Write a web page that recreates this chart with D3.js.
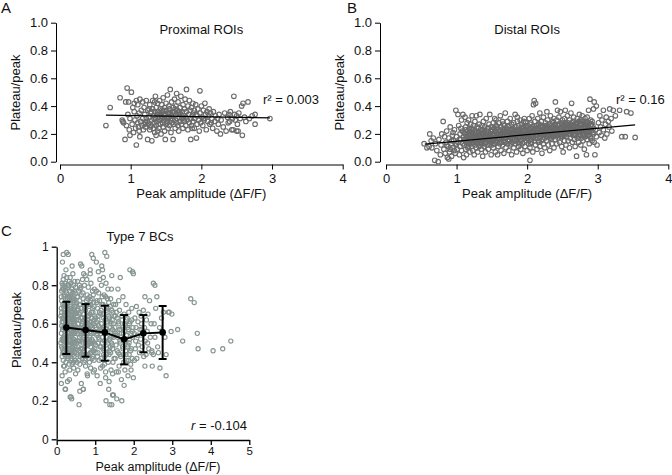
<!DOCTYPE html>
<html><head><meta charset="utf-8">
<script src="https://cdn.jsdelivr.net/npm/d3@7"></script>
<style>
html,body{margin:0;padding:0;background:#fff;}
svg{display:block;font-family:"Liberation Sans",Arial,sans-serif;}
</style></head><body>
<svg id="chart" width="672" height="475"></svg>
<script>
// ---------- DATA ----------
const xTicksAB = [0,1,2,3,4];
const yTicksAB = [0,0.2,0.4,0.6,0.8,1.0];
const xTicksC = [0,1,2,3,4,5];
const yTicksC = [0,0.2,0.4,0.6,0.8,1];

const proximalPts = [
[0.65,0.26],[0.71,0.39],[0.85,0.46],[0.88,0.30],[0.90,0.28],[0.92,0.16],[0.95,0.53],[0.96,0.34],[0.98,0.23],[0.99,0.31],[0.93,0.43],[0.97,0.43],[0.89,0.29],[0.94,0.26],[0.99,0.19],
[1.01,0.50],[1.02,0.27],[1.03,0.39],[1.04,0.21],[1.05,0.36],[1.06,0.30],[1.07,0.24],[1.08,0.12],[1.08,0.44],[1.09,0.33],[1.10,0.28],[1.10,0.41],[1.11,0.25],[1.12,0.35],[1.13,0.18],[1.13,0.45],[1.14,0.29],[1.15,0.37],[1.16,0.26],[1.17,0.43],[1.17,0.31],[1.18,0.23],[1.19,0.39],[1.19,0.27],[1.05,0.42],[1.12,0.22],
[1.20,0.34],[1.21,0.25],[1.22,0.44],[1.23,0.29],[1.24,0.16],[1.24,0.37],[1.25,0.27],[1.26,0.32],[1.27,0.41],[1.27,0.23],[1.28,0.35],[1.29,0.26],[1.30,0.15],[1.30,0.30],[1.31,0.44],[1.31,0.38],[1.32,0.24],[1.32,0.33],[1.33,0.28],[1.34,0.36],[1.34,0.21],[1.35,0.31],[1.35,0.47],[1.36,0.26],[1.36,0.39],[1.37,0.34],[1.37,0.29],[1.38,0.22],[1.38,0.42],[1.39,0.32],[1.39,0.27],[1.22,0.31],[1.26,0.38],[1.29,0.36],[1.33,0.31],[1.36,0.19],[1.21,0.28],[1.28,0.25],[1.34,0.43],[1.38,0.36],
[1.40,0.35],[1.40,0.24],[1.41,0.30],[1.41,0.44],[1.42,0.38],[1.42,0.27],[1.43,0.33],[1.43,0.20],[1.44,0.41],[1.44,0.31],[1.45,0.28],[1.45,0.36],[1.46,0.25],[1.46,0.46],[1.47,0.34],[1.47,0.30],[1.48,0.39],[1.48,0.22],[1.49,0.16],[1.49,0.33],[1.50,0.27],[1.50,0.42],[1.51,0.37],[1.51,0.31],[1.52,0.29],[1.52,0.48],[1.53,0.35],[1.53,0.24],[1.54,0.40],[1.54,0.32],[1.55,0.26],[1.55,0.38],[1.56,0.52],[1.56,0.30],[1.57,0.34],[1.57,0.21],[1.58,0.43],[1.58,0.28],[1.59,0.36],[1.59,0.31],[1.60,0.16],[1.60,0.39],[1.42,0.34],[1.47,0.37],[1.53,0.32],[1.58,0.33],[1.45,0.32],[1.51,0.28],[1.55,0.35],[1.44,0.37],
[1.61,0.33],[1.61,0.27],[1.62,0.45],[1.62,0.36],[1.63,0.30],[1.63,0.24],[1.64,0.40],[1.64,0.34],[1.65,0.28],[1.65,0.49],[1.66,0.37],[1.66,0.31],[1.67,0.26],[1.67,0.43],[1.68,0.35],[1.68,0.22],[1.69,0.32],[1.70,0.39],[1.70,0.29],[1.71,0.47],[1.71,0.34],[1.72,0.27],[1.73,0.36],[1.73,0.31],[1.74,0.41],[1.74,0.24],[1.75,0.33],[1.76,0.38],[1.76,0.29],[1.77,0.45],[1.78,0.32],[1.78,0.26],[1.79,0.52],[1.79,0.36],[1.63,0.38],[1.69,0.36],[1.75,0.30],
[1.80,0.30],[1.81,0.40],[1.81,0.23],[1.82,0.34],[1.83,0.28],[1.83,0.44],[1.84,0.37],[1.85,0.16],[1.85,0.31],[1.86,0.26],[1.86,0.39],[1.87,0.33],[1.88,0.42],[1.88,0.29],[1.89,0.35],[1.90,0.24],[1.90,0.37],[1.91,0.31],[1.92,0.41],[1.93,0.17],[1.93,0.34],[1.94,0.27],[1.95,0.38],[1.96,0.30],[1.97,0.22],[1.98,0.51],[1.98,0.35],[1.99,0.28],[1.94,0.33],[1.87,0.24],
[2.00,0.40],[2.01,0.32],[2.02,0.26],[2.03,0.37],[2.04,0.30],[2.05,0.42],[2.06,0.34],[2.07,0.23],[2.08,0.36],[2.09,0.29],[2.10,0.33],[2.11,0.38],[2.12,0.27],[2.13,0.35],[2.15,0.31],[2.16,0.24],[2.17,0.36],[2.19,0.29],[2.20,0.33],[2.22,0.22],[2.23,0.31],[2.24,0.27],[2.25,0.34],[2.27,0.20],[2.28,0.30],[2.03,0.31],[2.14,0.28],
[2.31,0.25],[2.33,0.35],[2.35,0.22],[2.37,0.32],[2.38,0.28],[2.40,0.29],[2.41,0.36],[2.43,0.23],[2.44,0.31],[2.45,0.23],[2.46,0.47],[2.47,0.34],[2.48,0.30],[2.50,0.33],[2.51,0.27],[2.52,0.22],[2.53,0.35],[2.55,0.31],[2.57,0.40],[2.58,0.19],[2.59,0.42],[2.61,0.32],[2.63,0.29],[2.66,0.43],[2.68,0.31],[2.72,0.33],[2.76,0.34],[2.76,0.27],[2.97,0.31],[2.50,0.22],[2.39,0.34]
];

const distalPts = [
[0.54,0.13],[0.58,0.10],[0.61,0.11],[0.62,0.20],[0.64,0.15],[0.65,0.10],[0.67,0.17],[0.69,0.01],[0.70,0.13],[0.72,0.08],[0.74,0.00],[0.75,0.16],[0.77,0.05],[0.78,0.12],[0.79,0.20],
[0.81,0.29],[0.82,0.09],[0.83,0.18],[0.84,0.06],[0.85,0.14],[0.86,0.22],[0.87,0.03],[0.88,0.11],[0.89,0.17],[0.90,0.07],[0.91,0.25],[0.92,0.13],[0.93,0.04],[0.94,0.19],[0.95,0.10],[0.96,0.15],[0.97,0.23],[0.98,0.06],[0.99,0.37],[0.99,0.12],[1.00,0.18],[1.01,0.09],[1.02,0.34],[1.02,0.14],[1.03,0.26],[1.04,0.05],[1.05,0.20],[1.05,0.11],[1.06,0.16],[1.07,0.30],[1.07,0.08],[1.08,0.22],[1.09,0.13],[1.09,0.34],[1.10,0.18],[1.10,0.03],[0.86,0.12],[0.91,0.09],[0.95,0.21],[1.00,0.13],[1.04,0.16],[0.89,0.02],[0.97,0.08],[1.06,0.24],[0.93,0.15],
[1.11,0.21],[1.11,0.12],[1.12,0.32],[1.12,0.16],[1.13,0.09],[1.13,0.25],[1.14,0.19],[1.14,0.05],[1.15,0.14],[1.15,0.28],[1.16,0.22],[1.16,0.10],[1.17,0.17],[1.17,0.30],[1.18,0.13],[1.18,0.24],[1.19,0.07],[1.19,0.19],[1.20,0.15],[1.20,0.27],[1.21,0.11],[1.21,0.21],[1.22,0.33],[1.22,0.17],[1.23,0.08],[1.23,0.23],[1.24,0.14],[1.24,0.26],[1.25,0.19],[1.25,0.05],[1.26,0.12],[1.26,0.29],[1.27,0.16],[1.27,0.22],[1.28,0.10],[1.28,0.33],[1.29,0.18],[1.29,0.25],[1.30,0.13],[1.30,0.07],[1.31,0.21],[1.31,0.16],[1.32,0.27],[1.32,0.11],[1.33,0.19],[1.33,0.34],[1.34,0.14],[1.34,0.23],[1.35,0.09],[1.35,0.18],[1.36,0.26],[1.36,0.13],[1.37,0.20],[1.37,0.04],[1.38,0.16],[1.38,0.29],[1.39,0.22],[1.39,0.11],[1.40,0.18],[1.40,0.25],[1.41,0.14],[1.41,0.07],[1.42,0.20],[1.42,0.31],[1.43,0.17],[1.43,0.12],[1.44,0.24],[1.44,0.21],[1.45,0.15],[1.45,0.09],[1.46,0.19],[1.46,0.27],[1.47,0.13],[1.47,0.34],[1.48,0.22],[1.48,0.17],[1.49,0.05],[1.49,0.25],[1.50,0.19],[1.50,0.12],[1.15,0.18],[1.19,0.23],[1.23,0.20],[1.27,0.19],[1.31,0.24],[1.35,0.22],[1.39,0.17],[1.43,0.22],[1.47,0.18],[1.13,0.14],[1.21,0.16],[1.29,0.14],[1.37,0.15],[1.45,0.21],
[1.51,0.23],[1.51,0.15],[1.52,0.28],[1.52,0.10],[1.53,0.20],[1.53,0.17],[1.54,0.31],[1.54,0.13],[1.55,0.22],[1.55,0.07],[1.56,0.18],[1.56,0.26],[1.57,0.14],[1.57,0.21],[1.58,0.05],[1.58,0.24],[1.59,0.19],[1.59,0.11],[1.60,0.28],[1.60,0.16],[1.61,0.22],[1.61,0.13],[1.62,0.33],[1.62,0.19],[1.63,0.08],[1.63,0.25],[1.64,0.17],[1.64,0.21],[1.65,0.12],[1.65,0.29],[1.66,0.23],[1.66,0.15],[1.67,0.19],[1.67,0.06],[1.68,0.26],[1.68,0.14],[1.69,0.21],[1.69,0.35],[1.70,0.17],[1.70,0.10],[1.71,0.24],[1.71,0.20],[1.72,0.13],[1.72,0.29],[1.73,0.18],[1.73,0.22],[1.74,0.08],[1.74,0.26],[1.75,0.15],[1.75,0.20],[1.76,0.31],[1.76,0.12],[1.77,0.23],[1.77,0.17],[1.78,0.27],[1.78,0.05],[1.79,0.19],[1.79,0.14],[1.80,0.24],[1.80,0.21],[1.81,0.10],[1.81,0.28],[1.82,0.16],[1.82,0.22],[1.83,0.34],[1.83,0.13],[1.84,0.19],[1.84,0.25],[1.85,0.07],[1.85,0.17],[1.86,0.23],[1.86,0.29],[1.87,0.14],[1.87,0.20],[1.88,0.11],[1.88,0.26],[1.89,0.18],[1.89,0.22],[1.90,0.30],[1.90,0.15],[1.91,0.24],[1.91,0.09],[1.92,0.19],[1.92,0.27],[1.93,0.13],[1.93,0.21],[1.94,0.17],[1.94,0.06],[1.95,0.25],[1.95,0.29],[1.96,0.14],[1.96,0.20],[1.97,0.23],[1.97,0.11],[1.98,0.28],[1.98,0.18],[1.99,0.15],[1.99,0.25],[2.00,0.21],[2.00,0.08],[1.53,0.24],[1.58,0.20],[1.63,0.18],[1.68,0.22],[1.73,0.16],[1.78,0.21],[1.83,0.20],[1.88,0.23],[1.93,0.24],[1.98,0.22],[1.56,0.30],[1.66,0.27],[1.86,0.32],[1.96,0.31],[2.04,0.01],
[2.01,0.17],[2.01,0.26],[2.02,0.13],[2.02,0.22],[2.03,0.31],[2.03,0.19],[2.04,0.10],[2.04,0.24],[2.05,0.16],[2.05,0.28],[2.06,0.21],[2.06,0.14],[2.07,0.33],[2.07,0.18],[2.08,0.25],[2.08,0.07],[2.09,0.41],[2.09,0.20],[2.10,0.44],[2.10,0.15],[2.11,0.23],[2.11,0.29],[2.12,0.42],[2.12,0.12],[2.13,0.19],[2.13,0.26],[2.14,0.22],[2.14,0.09],[2.15,0.17],[2.15,0.31],[2.16,0.24],[2.16,0.14],[2.17,0.20],[2.17,0.27],[2.18,0.35],[2.18,0.11],[2.19,0.22],[2.19,0.18],[2.20,0.29],[2.20,0.15],[2.21,0.25],[2.21,0.06],[2.22,0.19],[2.22,0.23],[2.23,0.13],[2.23,0.32],[2.24,0.21],[2.24,0.26],[2.25,0.17],[2.25,0.10],[2.26,0.28],[2.26,0.20],[2.27,0.24],[2.27,0.15],[2.28,0.36],[2.28,0.22],[2.29,0.18],[2.29,0.30],[2.30,0.12],[2.30,0.25],[2.31,0.21],[2.31,0.27],[2.32,0.08],[2.32,0.19],[2.33,0.23],[2.33,0.33],[2.34,0.16],[2.34,0.26],[2.35,0.20],[2.35,0.13],[2.36,0.29],[2.36,0.22],[2.37,0.18],[2.37,0.25],[2.38,0.31],[2.38,0.10],[2.39,0.21],[2.39,0.27],[2.40,0.43],[2.40,0.16],[2.41,0.24],[2.41,0.19],[2.42,0.30],[2.42,0.13],[2.43,0.37],[2.43,0.22],[2.44,0.26],[2.44,0.17],[2.45,0.20],[2.45,0.32],[2.46,0.14],[2.46,0.24],[2.47,0.36],[2.47,0.21],[2.48,0.28],[2.48,0.18],[2.49,0.11],[2.49,0.25],[2.50,0.22],[2.50,0.30],[2.04,0.20],[2.09,0.23],[2.14,0.26],[2.19,0.25],[2.24,0.23],[2.29,0.24],[2.34,0.21],[2.39,0.24],[2.44,0.23],[2.49,0.27],[2.06,0.24],[2.16,0.21],[2.26,0.24],[2.36,0.25],[2.46,0.27],
[2.51,0.07],[2.51,0.19],[2.52,0.26],[2.52,0.23],[2.53,0.15],[2.53,0.31],[2.54,0.37],[2.54,0.21],[2.55,0.27],[2.55,0.12],[2.56,0.24],[2.56,0.18],[2.57,0.33],[2.57,0.22],[2.58,0.28],[2.58,0.15],[2.59,0.20],[2.59,0.26],[2.60,0.10],[2.60,0.30],[2.61,0.23],[2.61,0.17],[2.62,0.27],[2.62,0.35],[2.63,0.42],[2.63,0.21],[2.64,0.14],[2.64,0.25],[2.65,0.19],[2.65,0.29],[2.66,0.23],[2.66,0.32],[2.67,0.16],[2.67,0.26],[2.68,0.22],[2.68,0.11],[2.69,0.28],[2.69,0.19],[2.70,0.04],[2.70,0.24],[2.71,0.31],[2.71,0.17],[2.72,0.25],[2.72,0.21],[2.73,0.14],[2.73,0.29],[2.74,0.34],[2.74,0.22],[2.75,0.19],[2.75,0.26],[2.76,0.12],[2.76,0.30],[2.77,0.23],[2.77,0.17],[2.78,0.27],[2.78,0.33],[2.79,0.20],[2.79,0.15],[2.80,0.25],[2.80,0.29],[2.81,0.22],[2.81,0.09],[2.82,0.31],[2.82,0.18],[2.83,0.24],[2.83,0.27],[2.84,0.05],[2.84,0.21],[2.85,0.16],[2.85,0.32],[2.86,0.26],[2.86,0.22],[2.87,0.37],[2.87,0.19],[2.88,0.28],[2.88,0.13],[2.89,0.45],[2.89,0.24],[2.90,0.30],[2.90,0.17],[2.91,0.22],[2.92,0.15],[2.93,0.26],[2.94,0.38],[2.94,0.20],[2.95,0.43],[2.95,0.14],[2.96,0.05],[2.97,0.23],[2.98,0.40],[2.98,0.18],[2.99,0.12],[2.56,0.21],[2.61,0.25],[2.66,0.20],[2.71,0.27],[2.76,0.24],[2.81,0.26],[2.86,0.19],[2.91,0.27],
[3.01,0.28],[3.02,0.21],[3.03,0.33],[3.04,0.25],[3.05,0.19],[3.06,0.30],[3.08,0.37],[3.08,0.23],[3.10,0.17],[3.11,0.27],[3.12,0.32],[3.13,0.20],[3.15,0.29],[3.16,0.25],[3.17,0.38],[3.19,0.31],[3.20,0.22],[3.22,0.37],[3.25,0.33],[3.31,0.37],[3.34,0.18],[3.39,0.18],[3.41,0.36],[3.47,0.35],[3.53,0.175]
];
const distalCorePts = [
[1.12,0.20],[1.14,0.15],[1.16,0.13],[1.18,0.20],[1.20,0.19],[1.22,0.13],[1.24,0.18],[1.26,0.21],[1.28,0.15],[1.30,0.19],[1.32,0.20],[1.34,0.17],[1.36,0.16],[1.38,0.21],[1.40,0.13],[1.42,0.16],[1.44,0.18],[1.46,0.15],[1.48,0.20],[1.50,0.16],
[1.52,0.19],[1.54,0.22],[1.56,0.15],[1.58,0.17],[1.60,0.20],[1.62,0.23],[1.64,0.14],[1.66,0.19],[1.68,0.17],[1.70,0.22],[1.72,0.20],[1.74,0.16],[1.76,0.19],[1.78,0.23],[1.80,0.17],[1.82,0.19],[1.84,0.15],[1.86,0.20],[1.88,0.17],[1.90,0.21],[1.92,0.16],[1.94,0.22],[1.96,0.18],[1.98,0.20],
[2.00,0.17],[2.02,0.20],[2.04,0.27],[2.06,0.18],[2.08,0.21],[2.10,0.24],[2.12,0.17],[2.14,0.19],[2.16,0.27],[2.18,0.21],[2.20,0.23],[2.22,0.16],[2.24,0.19],[2.26,0.22],[2.28,0.26],[2.30,0.19],[2.32,0.24],[2.34,0.18],[2.36,0.23],[2.38,0.20],[2.40,0.26],[2.42,0.22],[2.44,0.19],[2.46,0.21],[2.48,0.24],[2.50,0.18],
[2.52,0.21],[2.54,0.25],[2.56,0.27],[2.58,0.23],[2.60,0.20],[2.62,0.22],[2.64,0.28],[2.66,0.25],[2.68,0.19],[2.70,0.27],[2.72,0.23],[2.74,0.20],[2.76,0.27],[2.78,0.22],[2.80,0.19],[2.82,0.25],[2.84,0.28],[2.86,0.24],[2.88,0.21],[2.90,0.26],[2.92,0.29],[2.94,0.24],
[1.13,0.23],[1.17,0.11],[1.21,0.24],[1.25,0.15],[1.29,0.21],[1.33,0.12],[1.37,0.23],[1.41,0.19],[1.45,0.24],[1.49,0.14],[1.53,0.13],[1.57,0.25],[1.61,0.17],[1.65,0.21],[1.69,0.14],[1.73,0.25],[1.77,0.13],[1.81,0.23],[1.85,0.21],[1.89,0.13],[1.93,0.19],[1.97,0.26],[2.01,0.23],[2.05,0.13],[2.09,0.17],[2.13,0.23],[2.17,0.15],[2.21,0.20],[2.25,0.25],[2.29,0.21],[2.33,0.17],[2.37,0.28],[2.41,0.21],[2.45,0.26],[2.49,0.20],[2.53,0.19],[2.57,0.26],[2.61,0.20],[2.65,0.23],[2.69,0.25],[2.73,0.18],[2.77,0.29],[2.81,0.20],[2.85,0.23],[2.89,0.18],[2.93,0.21]
];

const type7Pts = [
[0.12,0.55],[0.13,0.72],[0.14,0.43],[0.15,0.63],[0.16,0.51],[0.17,0.96],[0.18,0.38],[0.19,0.67],[0.20,0.58],[0.21,0.47],[0.22,0.79],[0.23,0.26],[0.24,0.61],[0.25,0.53],[0.26,0.97],[0.27,0.70],[0.28,0.44],[0.29,0.57],[0.30,0.96],[0.31,0.65],[0.32,0.49],[0.33,0.82],[0.34,0.36],[0.35,0.60],[0.36,0.54],[0.37,0.22],[0.38,0.74],[0.39,0.46],[0.40,0.62],[0.41,0.51],[0.42,0.86],[0.43,0.40],[0.44,0.68],[0.45,0.56],[0.46,0.77],[0.47,0.45],[0.48,0.59],[0.49,0.34],
[0.11,0.64],[0.13,0.48],[0.14,0.81],[0.15,0.57],[0.17,0.41],[0.18,0.69],[0.19,0.52],[0.20,0.75],[0.21,0.62],[0.22,0.35],[0.23,0.55],[0.24,0.88],[0.25,0.47],[0.26,0.66],[0.27,0.58],[0.28,0.80],[0.29,0.42],[0.30,0.63],[0.31,0.53],[0.32,0.72],[0.33,0.31],[0.34,0.59],[0.35,0.84],[0.36,0.45],[0.37,0.67],[0.38,0.55],[0.39,0.78],[0.40,0.39],[0.41,0.64],[0.42,0.50],[0.43,0.73],[0.44,0.57],[0.45,0.43],[0.46,0.61],[0.47,0.82],[0.48,0.48],[0.49,0.66],
[0.12,0.74],[0.13,0.59],[0.14,0.33],[0.15,0.78],[0.16,0.45],[0.17,0.61],[0.18,0.53],[0.19,0.85],[0.20,0.44],[0.21,0.70],[0.22,0.56],[0.23,0.64],[0.24,0.40],[0.25,0.76],[0.26,0.52],[0.27,0.60],[0.28,0.30],[0.29,0.71],[0.30,0.49],[0.31,0.80],[0.32,0.58],[0.33,0.46],[0.34,0.68],[0.35,0.52],[0.36,0.75],[0.37,0.41],[0.38,0.63],[0.39,0.57],[0.40,0.90],[0.41,0.44],[0.42,0.66],[0.43,0.55],[0.44,0.37],[0.45,0.71],[0.46,0.50],[0.47,0.62],[0.48,0.76],[0.49,0.53],
[0.13,0.66],[0.16,0.70],[0.19,0.46],[0.22,0.63],[0.25,0.60],[0.28,0.67],[0.31,0.43],[0.34,0.77],[0.37,0.57],[0.40,0.48],[0.43,0.62],[0.46,0.69],[0.14,0.52],[0.17,0.83],[0.20,0.38],[0.23,0.73],[0.26,0.45],[0.29,0.62],[0.32,0.39],[0.35,0.69],[0.38,0.50],[0.41,0.72],[0.44,0.47],[0.47,0.55],[0.12,0.29],[0.15,0.92],[0.18,0.78],[0.21,0.54],[0.24,0.69],[0.27,0.50],[0.30,0.74],[0.33,0.61],[0.36,0.64],[0.39,0.42],[0.42,0.58],[0.45,0.65],[0.48,0.41],[0.35,0.22],[0.39,0.21],[0.22,0.26],
[0.51,0.62],[0.52,0.45],[0.53,0.74],[0.54,0.55],[0.55,0.36],[0.56,0.67],[0.57,0.51],[0.58,0.18],[0.59,0.80],[0.60,0.58],[0.61,0.43],[0.62,0.70],[0.63,0.54],[0.64,0.29],[0.65,0.90],[0.66,0.63],[0.67,0.47],[0.68,0.76],[0.69,0.26],[0.70,0.57],[0.71,0.40],[0.72,0.68],[0.73,0.52],[0.74,0.85],[0.75,0.60],[0.76,0.44],[0.77,0.72],[0.78,0.55],[0.79,0.34],[0.80,0.64],[0.81,0.49],[0.82,0.79],[0.83,0.58],[0.84,0.42],[0.85,0.69],[0.86,0.53],[0.87,0.86],[0.88,0.37],[0.89,0.61],[0.90,0.50],[0.91,0.96],[0.92,0.73],[0.93,0.46],[0.94,0.66],[0.95,0.94],[0.96,0.55],[0.97,0.41],[0.98,0.78],[0.99,0.59],
[0.52,0.58],[0.54,0.82],[0.56,0.48],[0.58,0.65],[0.60,0.39],[0.62,0.56],[0.64,0.75],[0.66,0.51],[0.68,0.61],[0.70,0.86],[0.72,0.45],[0.74,0.63],[0.76,0.55],[0.78,0.70],[0.80,0.33],[0.82,0.60],[0.84,0.52],[0.86,0.74],[0.88,0.48],[0.90,0.66],[0.92,0.57],[0.94,0.43],[0.96,0.71],[0.98,0.50],
[0.51,0.71],[0.53,0.40],[0.55,0.60],[0.57,0.77],[0.59,0.53],[0.61,0.66],[0.63,0.47],[0.65,0.58],[0.67,0.83],[0.69,0.44],[0.71,0.62],[0.73,0.69],[0.75,0.38],[0.77,0.58],[0.79,0.49],[0.81,0.73],[0.83,0.64],[0.85,0.40],[0.87,0.56],[0.89,0.81],[0.91,0.52],[0.93,0.68],[0.95,0.35],[0.97,0.62],[0.99,0.47],
[0.55,0.51],[0.60,0.72],[0.65,0.44],[0.70,0.65],[0.75,0.50],[0.80,0.58],[0.85,0.61],[0.90,0.45],[0.95,0.75],[0.53,0.64],[0.58,0.46],[0.63,0.79],[0.68,0.55],[0.73,0.41],[0.78,0.83],[0.83,0.50],[0.88,0.70],[0.93,0.58],[0.98,0.36],[0.60,0.25],[0.69,0.26],[0.62,0.91],[0.87,0.88],
[1.01,0.63],[1.02,0.45],[1.03,0.77],[1.04,0.54],[1.05,0.33],[1.06,0.68],[1.07,0.50],[1.08,0.87],[1.09,0.59],[1.10,0.41],[1.11,0.72],[1.12,0.56],[1.13,0.29],[1.14,0.65],[1.15,0.48],[1.16,0.80],[1.17,0.90],[1.18,0.53],[1.19,0.38],[1.20,0.70],[1.21,0.58],[1.22,0.44],[1.23,0.75],[1.24,0.51],[1.25,0.97],[1.26,0.62],[1.27,0.35],[1.28,0.20],[1.29,0.67],[1.30,0.95],[1.31,0.47],[1.32,0.73],[1.33,0.56],[1.34,0.40],[1.35,0.64],[1.36,0.30],[1.37,0.52],[1.38,0.18],[1.39,0.69],[1.40,0.45],[1.41,0.60],[1.42,0.78],[1.43,0.85],[1.44,0.49],[1.45,0.34],[1.46,0.66],[1.47,0.23],[1.48,0.54],[1.49,0.42],
[1.02,0.58],[1.04,0.71],[1.06,0.43],[1.08,0.64],[1.10,0.52],[1.12,0.83],[1.14,0.37],[1.16,0.60],[1.18,0.74],[1.20,0.47],[1.22,0.63],[1.24,0.39],[1.26,0.55],[1.28,0.81],[1.30,0.51],[1.32,0.61],[1.34,0.68],[1.36,0.44],[1.38,0.58],[1.40,0.73],[1.42,0.50],[1.44,0.62],[1.46,0.40],[1.48,0.70],
[1.05,0.55],[1.09,0.76],[1.13,0.48],[1.17,0.57],[1.21,0.84],[1.25,0.43],[1.29,0.53],[1.33,0.78],[1.37,0.63],[1.41,0.36],[1.45,0.57],[1.49,0.64],[1.07,0.62],[1.15,0.67],[1.23,0.56],[1.31,0.66],[1.39,0.48],[1.47,0.53],[1.43,0.18],[1.45,0.23],[1.27,0.32],[1.35,0.26],[1.03,0.92],[1.19,0.88],
[1.51,0.58],[1.52,0.42],[1.53,0.70],[1.54,0.49],[1.55,0.35],[1.56,0.21],[1.57,0.63],[1.58,0.53],[1.59,0.78],[1.60,0.45],[1.61,0.60],[1.62,0.38],[1.63,0.67],[1.64,0.51],[1.65,0.84],[1.66,0.43],[1.67,0.57],[1.68,0.31],[1.69,0.20],[1.70,0.62],[1.71,0.48],[1.72,0.74],[1.73,0.55],[1.74,0.40],[1.75,0.65],[1.76,0.52],[1.77,0.36],[1.78,0.59],[1.79,0.46],[1.80,0.70],[1.81,0.54],[1.82,0.41],[1.83,0.63],[1.84,0.48],[1.85,0.33],[1.86,0.57],[1.87,0.66],[1.88,0.44],[1.89,0.52],[1.90,0.88],[1.91,0.61],[1.92,0.39],[1.93,0.55],[1.94,0.47],[1.95,0.68],[1.96,0.42],[1.97,0.87],[1.98,0.58],[1.99,0.86],
[1.53,0.55],[1.57,0.46],[1.61,0.72],[1.65,0.50],[1.69,0.64],[1.73,0.44],[1.77,0.56],[1.81,0.62],[1.85,0.49],[1.89,0.60],[1.93,0.36],[1.97,0.53],[1.55,0.66],[1.63,0.57],[1.71,0.58],[1.79,0.51],[1.87,0.41],[1.95,0.62],[1.99,0.32],[1.60,0.35],[1.75,0.28],
[2.01,0.55],[2.03,0.63],[2.04,0.47],[2.06,0.58],[2.07,0.69],[2.08,0.42],[2.10,0.54],[2.11,0.61],[2.12,0.49],[2.14,0.66],[2.15,0.45],[2.16,0.57],[2.18,0.52],[2.19,0.64],[2.20,0.60],[2.22,0.48],[2.23,0.55],[2.25,0.67],[2.26,0.43],[2.28,0.58],[2.29,0.74],[2.30,0.51],[2.32,0.44],[2.33,0.62],[2.35,0.56],[2.37,0.65],[2.39,0.47],[2.41,0.72],[2.43,0.53],[2.45,0.60],[2.47,0.46],[2.48,0.38],[2.29,0.38],[2.05,0.51],[2.21,0.57],[2.36,0.50],[2.02,0.41],
[2.51,0.81],[2.51,0.44],[2.53,0.60],[2.55,0.80],[2.55,0.53],[2.57,0.68],[2.60,0.74],[2.62,0.48],[2.64,0.45],[2.67,0.58],[2.68,0.37],[2.72,0.63],[2.77,0.66],[2.81,0.53],[2.84,0.44],[2.84,0.33],[2.90,0.66],[2.92,0.66],[2.97,0.56],[2.99,0.65],[2.47,0.45],
[3.14,0.57],[3.27,0.51],[3.48,0.73],[3.57,0.71],[3.65,0.55],[3.67,0.47],[4.06,0.46],[4.31,0.47],[4.52,0.51]
];
const type7CorePts = [
[0.11,0.50],[0.12,0.68],[0.13,0.77],[0.14,0.61],[0.15,0.47],[0.16,0.80],[0.16,0.58],[0.17,0.52],[0.18,0.63],[0.18,0.45],[0.19,0.74],[0.20,0.66],[0.20,0.51],[0.21,0.81],[0.22,0.48],[0.22,0.69],[0.23,0.59],[0.24,0.50],[0.24,0.77],[0.25,0.66],[0.26,0.57],[0.26,0.84],[0.27,0.43],[0.28,0.73],[0.28,0.55],[0.29,0.65],[0.30,0.45],[0.30,0.79],[0.31,0.58],[0.32,0.67],[0.32,0.53],[0.33,0.74],[0.34,0.49],[0.34,0.63],[0.35,0.44],[0.36,0.70],[0.36,0.59],[0.37,0.81],[0.38,0.45],[0.38,0.68],[0.39,0.61],[0.40,0.55],[0.40,0.73],[0.41,0.48],[0.42,0.76],[0.42,0.62],[0.43,0.46],[0.44,0.80],[0.44,0.52],[0.45,0.60],[0.46,0.41],[0.46,0.72],[0.47,0.58],[0.48,0.65],[0.48,0.51],[0.49,0.79],[0.50,0.56],[0.50,0.69],
[0.52,0.50],[0.53,0.67],[0.54,0.44],[0.55,0.74],[0.56,0.58],[0.57,0.62],[0.58,0.41],[0.59,0.70],[0.60,0.51],[0.61,0.78],[0.62,0.47],[0.63,0.63],[0.64,0.55],[0.65,0.68],[0.66,0.42],[0.67,0.60],[0.68,0.50],[0.69,0.73],[0.70,0.46],[0.71,0.55],[0.72,0.80],[0.73,0.59],[0.74,0.48],[0.75,0.67],[0.76,0.61],[0.77,0.43],[0.78,0.52],[0.79,0.75],[0.80,0.49],[0.81,0.62],[0.82,0.44],[0.83,0.70],[0.84,0.57],[0.85,0.50],[0.86,0.65],[0.87,0.45],[0.88,0.59],[0.89,0.72],[0.90,0.55],[0.91,0.63],[0.92,0.42],[0.93,0.77],[0.94,0.51],[0.95,0.60],[0.96,0.46],[0.97,0.69],[0.98,0.56],[0.99,0.64],
[1.01,0.49],[1.03,0.61],[1.05,0.72],[1.07,0.45],[1.09,0.53],[1.11,0.66],[1.13,0.58],[1.15,0.42],[1.17,0.70],[1.19,0.50],[1.21,0.65],[1.23,0.46],[1.25,0.59],[1.27,0.74],[1.29,0.44],[1.31,0.57],[1.33,0.50],[1.35,0.71],[1.37,0.46],[1.39,0.61],[1.41,0.53],[1.43,0.67],[1.45,0.47],[1.47,0.60],[1.49,0.56],
[1.52,0.64],[1.56,0.54],[1.60,0.61],[1.64,0.44],[1.68,0.55],[1.72,0.47],[1.76,0.60],[1.80,0.44],[1.84,0.58],[1.88,0.50],[1.92,0.46],[1.96,0.56]
];

// regression fits (endpoints)
const fitProximal = [[0.65,0.335],[2.97,0.315]];
const fitDistal = [[0.55,0.127],[3.53,0.265]];

// binned means +/- SD for Type 7 BCs
const binCenters = [0.25,0.75,1.25,1.75,2.25,2.75];
const binMeans = [0.580,0.567,0.555,0.519,0.550,0.555];
const binUpper = [0.714,0.702,0.694,0.645,0.645,0.692];
const binLower = [0.443,0.429,0.408,0.389,0.452,0.417];

// ---------- DRAWING ----------
const svg = d3.select("#chart");
const FONT = 13;
const greyPt = "#6a6a6a";
const tealPt = "#869591";

function styleAxis(g, w, size){
  g.selectAll("path.domain").attr("stroke","#000").attr("stroke-width",w);
  g.selectAll(".tick line").attr("stroke","#000").attr("stroke-width",w);
  g.selectAll(".tick text").attr("fill","#111").style("font-size", (size||FONT)+"px")
   .style("font-family","'Liberation Sans',Arial,sans-serif");
}

function scatterPanel(o){
  const x = d3.scaleLinear().domain([0,4]).range(o.xr);
  const y = d3.scaleLinear().domain([0,1]).range([161.7,22.7]);
  const gy = svg.append("g").attr("transform",`translate(${o.yAxisX},0)`)
    .call(d3.axisLeft(y).tickValues(yTicksAB).tickFormat(d3.format(".1f")).tickSize(5).tickSizeOuter(0).tickPadding(3));
  styleAxis(gy,1);
  const gx = svg.append("g").attr("transform",`translate(0,164.5)`)
    .call(d3.axisBottom(x).tickValues(xTicksAB).tickFormat(d3.format("d")).tickSize(5).tickSizeOuter(0).tickPadding(4));
  styleAxis(gx,1);
  svg.append("g").selectAll("circle").data(o.pts).join("circle")
    .attr("cx",d=>x(d[0])).attr("cy",d=>y(d[1])).attr("r",2.3)
    .attr("fill","none").attr("stroke",greyPt).attr("stroke-width",1.1);
  svg.append("line").attr("x1",x(o.fit[0][0])).attr("y1",y(o.fit[0][1]))
    .attr("x2",x(o.fit[1][0])).attr("y2",y(o.fit[1][1]))
    .attr("stroke","#000").attr("stroke-width",1.2);
  const t = (tx,ty,s,anchor,size) => svg.append("text").attr("x",tx).attr("y",ty)
    .attr("text-anchor",anchor||"start").style("font-size",(size||FONT)+"px").attr("fill","#111").text(s);
  t(o.labelX, 13, o.label, "start", 15);
  t(x(2), 33.5, o.title, "middle");
  t(o.rX, 103.5, o.rText, "start");
  t(x(2), 198, "Peak amplitude (\u0394F/F)", "middle");
  svg.append("text").attr("transform",`translate(${o.yAxisX-36},92.5) rotate(-90)`)
    .attr("text-anchor","middle").style("font-size",FONT+"px").attr("fill","#111").text("Plateau/peak");
}

scatterPanel({xr:[60,342.7], yAxisX:56, pts:proximalPts, fit:fitProximal,
  label:"A", labelX:1, title:"Proximal ROIs", rText:"r\u00B2 = 0.003", rX:263});
scatterPanel({xr:[386,668.3], yAxisX:380, pts:distalPts.concat(distalCorePts), fit:fitDistal,
  label:"B", labelX:347, title:"Distal ROIs", rText:"r\u00B2 = 0.16", rX:616});

// Panel C
(function(){
  const x = d3.scaleLinear().domain([0,5]).range([56.7,249.3]);
  const y = d3.scaleLinear().domain([0,1]).range([439.3,246.7]);
  svg.append("g").selectAll("circle").data(type7Pts.concat(type7CorePts)).join("circle")
    .attr("cx",d=>x(d[0])).attr("cy",d=>y(d[1])).attr("r",2.1)
    .attr("fill","none").attr("stroke",tealPt).attr("stroke-width",1.15);
  const gy = svg.append("g").attr("transform",`translate(56.7,0)`)
    .call(d3.axisLeft(y).tickValues(yTicksC).tickFormat(d=> (d===0||d===1)? String(d) : d.toFixed(1)).tickSize(5).tickSizeOuter(0).tickPadding(3));
  styleAxis(gy,1.3,12);
  const gx = svg.append("g").attr("transform",`translate(0,440)`)
    .call(d3.axisBottom(x).tickValues(xTicksC).tickFormat(d3.format("d")).tickSize(5).tickSizeOuter(0).tickPadding(2));
  styleAxis(gx,1.3,11.5);

  // error bars
  const eb = svg.append("g").attr("stroke","#000").attr("stroke-width",2);
  eb.selectAll("line.v").data(binCenters).join("line").attr("class","v")
    .attr("x1",d=>x(d)).attr("x2",d=>x(d))
    .attr("y1",(d,i)=>y(binUpper[i])).attr("y2",(d,i)=>y(binLower[i]));
  eb.selectAll("line.ct").data(binCenters).join("line").attr("class","ct")
    .attr("x1",d=>x(d)-4).attr("x2",d=>x(d)+4)
    .attr("y1",(d,i)=>y(binUpper[i])).attr("y2",(d,i)=>y(binUpper[i]));
  eb.selectAll("line.cb").data(binCenters).join("line").attr("class","cb")
    .attr("x1",d=>x(d)-4).attr("x2",d=>x(d)+4)
    .attr("y1",(d,i)=>y(binLower[i])).attr("y2",(d,i)=>y(binLower[i]));
  svg.append("path").datum(binCenters)
    .attr("d", d3.line().x(d=>x(d)).y((d,i)=>y(binMeans[i])))
    .attr("fill","none").attr("stroke","#000").attr("stroke-width",2);
  svg.append("g").selectAll("circle").data(binCenters).join("circle")
    .attr("cx",d=>x(d)).attr("cy",(d,i)=>y(binMeans[i])).attr("r",3.3).attr("fill","#000");

  svg.append("text").attr("x",1).attr("y",236).style("font-size","15px").attr("fill","#111").text("C");
  svg.append("text").attr("x",140).attr("y",240.5).attr("text-anchor","middle").style("font-size",FONT+"px").attr("fill","#111").text("Type 7 BCs");
  const rt = svg.append("text").attr("x",247).attr("y",429.5).attr("text-anchor","end").style("font-size",FONT+"px").attr("fill","#111");
  rt.append("tspan").style("font-style","italic").text("r");
  rt.append("tspan").text(" = -0.104");
  svg.append("text").attr("x",158).attr("y",471).attr("text-anchor","middle").style("font-size","12.5px").attr("fill","#111").text("Peak amplitude (\u0394F/F)");
  svg.append("text").attr("transform",`translate(20.5,330) rotate(-90)`)
    .attr("text-anchor","middle").style("font-size",FONT+"px").attr("fill","#111").text("Plateau/peak");
})();
</script>
</body></html>
